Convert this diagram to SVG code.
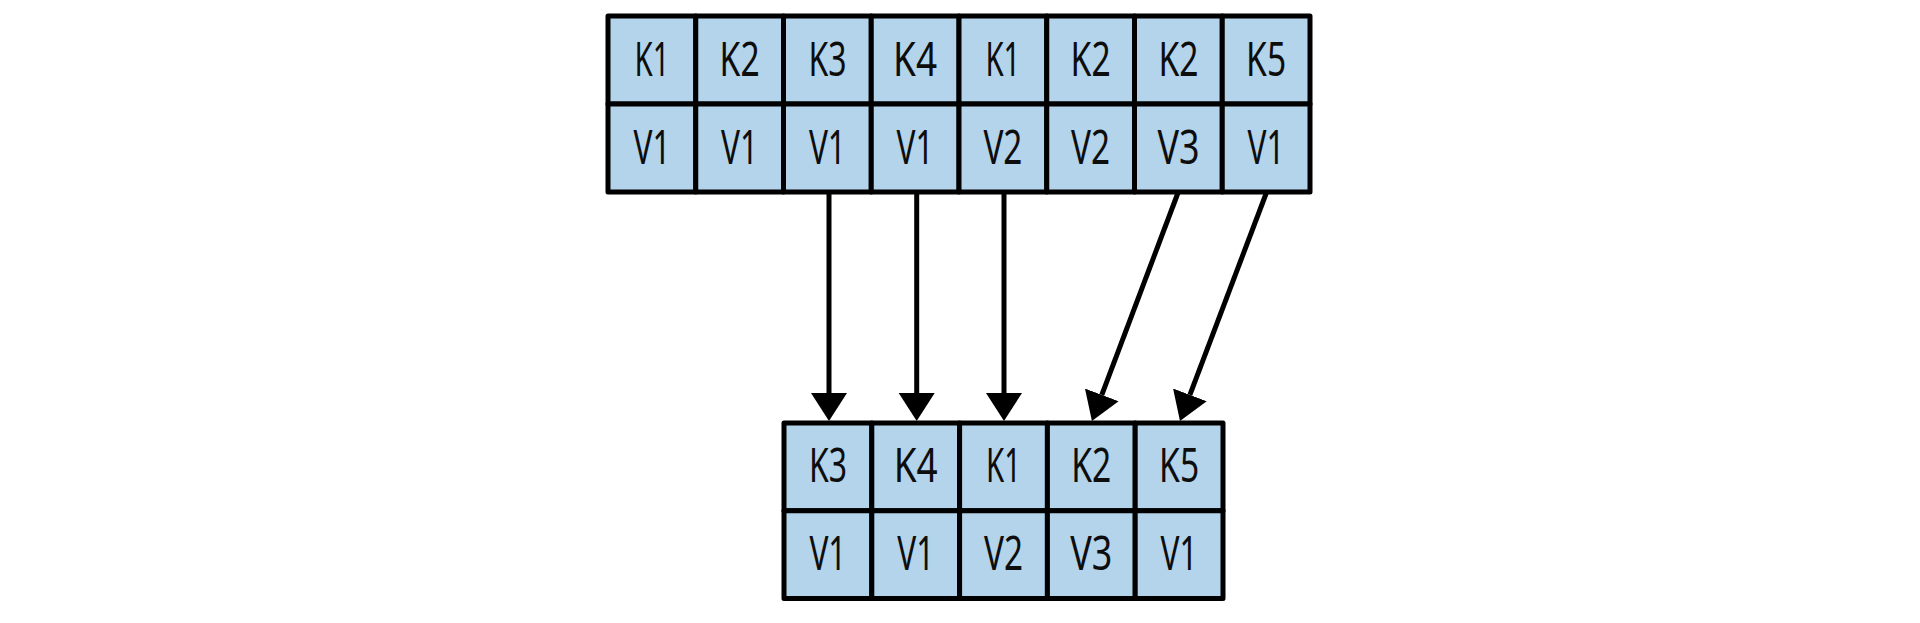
<svg xmlns="http://www.w3.org/2000/svg" width="1920" height="623" viewBox="0 0 1920 623">
<style>
.cell{fill:#b3d4ea;stroke:#000;stroke-width:5;stroke-linejoin:round}
.t{font-family:"Noto Sans","Open Sans",sans-serif;font-size:47px;fill:#0d0d0d;text-anchor:middle}
.c{stroke:#000;stroke-width:5;fill:none;marker-end:url(#ah)}
</style>
<defs>
<marker id="ah" markerUnits="userSpaceOnUse" markerWidth="30" markerHeight="38" viewBox="0 -19 30 38" refX="0" refY="0" orient="auto">
<path d="M0,-18 L28,0 L0,18 z" fill="#000"/>
</marker>
</defs>
<rect width="1920" height="623" fill="#fff"/>
<g id="top">
<g id="t0"><rect class="cell" x="608" y="16" width="87.75" height="88"/><rect class="cell" x="608" y="104" width="87.75" height="88"/><text class="t" x="652" y="76" textLength="35" lengthAdjust="spacingAndGlyphs">K1</text><text class="t" x="652" y="164" textLength="37" lengthAdjust="spacingAndGlyphs">V1</text></g>
<g id="t1"><rect class="cell" x="695.75" y="16" width="87.75" height="88"/><rect class="cell" x="695.75" y="104" width="87.75" height="88"/><text class="t" x="739.6" y="76" textLength="40" lengthAdjust="spacingAndGlyphs">K2</text><text class="t" x="739.6" y="164" textLength="37" lengthAdjust="spacingAndGlyphs">V1</text></g>
<g id="t2"><rect class="cell" x="783.5" y="16" width="87.75" height="88"/><rect class="cell" x="783.5" y="104" width="87.75" height="88"/><text class="t" x="827.4" y="76" textLength="38" lengthAdjust="spacingAndGlyphs">K3</text><text class="t" x="827.4" y="164" textLength="37" lengthAdjust="spacingAndGlyphs">V1</text></g>
<g id="t3"><rect class="cell" x="871.25" y="16" width="87.75" height="88"/><rect class="cell" x="871.25" y="104" width="87.75" height="88"/><text class="t" x="915.1" y="76" textLength="44" lengthAdjust="spacingAndGlyphs">K4</text><text class="t" x="915.1" y="164" textLength="37" lengthAdjust="spacingAndGlyphs">V1</text></g>
<g id="t4"><rect class="cell" x="959" y="16" width="87.75" height="88"/><rect class="cell" x="959" y="104" width="87.75" height="88"/><text class="t" x="1002.9" y="76" textLength="35" lengthAdjust="spacingAndGlyphs">K1</text><text class="t" x="1002.9" y="164" textLength="39" lengthAdjust="spacingAndGlyphs">V2</text></g>
<g id="t5"><rect class="cell" x="1046.75" y="16" width="87.75" height="88"/><rect class="cell" x="1046.75" y="104" width="87.75" height="88"/><text class="t" x="1090.6" y="76" textLength="40" lengthAdjust="spacingAndGlyphs">K2</text><text class="t" x="1090.6" y="164" textLength="39" lengthAdjust="spacingAndGlyphs">V2</text></g>
<g id="t6"><rect class="cell" x="1134.5" y="16" width="87.75" height="88"/><rect class="cell" x="1134.5" y="104" width="87.75" height="88"/><text class="t" x="1178.4" y="76" textLength="40" lengthAdjust="spacingAndGlyphs">K2</text><text class="t" x="1178.4" y="164" textLength="42" lengthAdjust="spacingAndGlyphs">V3</text></g>
<g id="t7"><rect class="cell" x="1222.25" y="16" width="87.75" height="88"/><rect class="cell" x="1222.25" y="104" width="87.75" height="88"/><text class="t" x="1266.1" y="76" textLength="40" lengthAdjust="spacingAndGlyphs">K5</text><text class="t" x="1266.1" y="164" textLength="37" lengthAdjust="spacingAndGlyphs">V1</text></g>
</g>
<g id="connectors">
<line class="c" x1="829" y1="192" x2="829" y2="393"/>
<line class="c" x1="916.7" y1="192" x2="916.7" y2="393"/>
<line class="c" x1="1004" y1="192" x2="1004" y2="393"/>
<line class="c" x1="1178.3" y1="192" x2="1101.8" y2="394.8"/>
<line class="c" x1="1266.7" y1="192" x2="1189.9" y2="394.8"/>
</g>
<g id="bottom">
<g id="b0"><rect class="cell" x="784" y="423" width="87.8" height="87.7"/><rect class="cell" x="784" y="510.7" width="87.8" height="87.7"/><text class="t" x="827.9" y="482" textLength="38" lengthAdjust="spacingAndGlyphs">K3</text><text class="t" x="827.9" y="570" textLength="37" lengthAdjust="spacingAndGlyphs">V1</text></g>
<g id="b1"><rect class="cell" x="871.8" y="423" width="87.8" height="87.7"/><rect class="cell" x="871.8" y="510.7" width="87.8" height="87.7"/><text class="t" x="915.7" y="482" textLength="44" lengthAdjust="spacingAndGlyphs">K4</text><text class="t" x="915.7" y="570" textLength="37" lengthAdjust="spacingAndGlyphs">V1</text></g>
<g id="b2"><rect class="cell" x="959.6" y="423" width="87.8" height="87.7"/><rect class="cell" x="959.6" y="510.7" width="87.8" height="87.7"/><text class="t" x="1003.5" y="482" textLength="35" lengthAdjust="spacingAndGlyphs">K1</text><text class="t" x="1003.5" y="570" textLength="39" lengthAdjust="spacingAndGlyphs">V2</text></g>
<g id="b3"><rect class="cell" x="1047.4" y="423" width="87.8" height="87.7"/><rect class="cell" x="1047.4" y="510.7" width="87.8" height="87.7"/><text class="t" x="1091.3" y="482" textLength="40" lengthAdjust="spacingAndGlyphs">K2</text><text class="t" x="1091.3" y="570" textLength="42" lengthAdjust="spacingAndGlyphs">V3</text></g>
<g id="b4"><rect class="cell" x="1135.2" y="423" width="87.8" height="87.7"/><rect class="cell" x="1135.2" y="510.7" width="87.8" height="87.7"/><text class="t" x="1179.1" y="482" textLength="40" lengthAdjust="spacingAndGlyphs">K5</text><text class="t" x="1179.1" y="570" textLength="37" lengthAdjust="spacingAndGlyphs">V1</text></g>
</g>
</svg>
